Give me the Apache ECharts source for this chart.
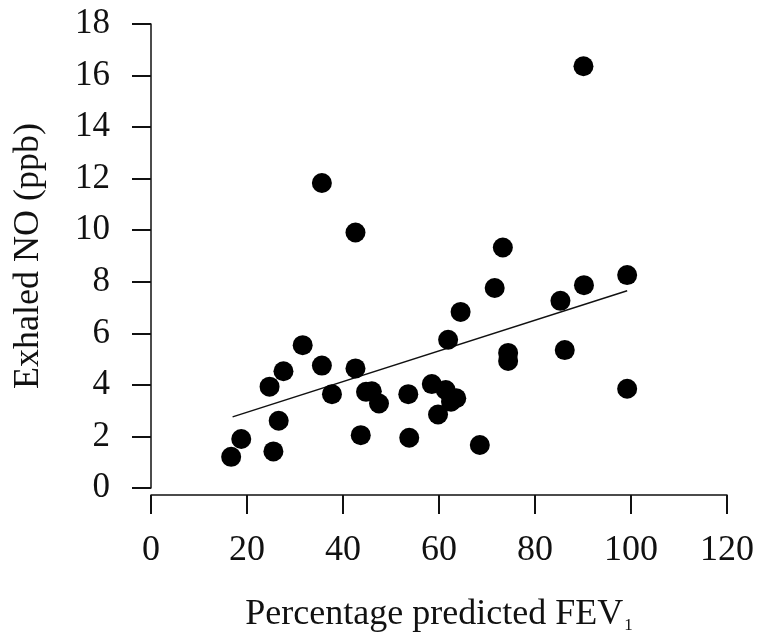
<!DOCTYPE html>
<html>
<head>
<meta charset="utf-8">
<script src="https://cdn.jsdelivr.net/npm/echarts@6/dist/echarts.min.js"></script>
<style>
  html, body { margin: 0; padding: 0; background: #fff; }
  #chart { width: 757px; height: 643px; }
</style>
</head>
<body>
<div id="chart"></div>
<script>
// percentage predicted FEV1 (x) vs exhaled NO in ppb (y)
var fevValues = [16.7, 18.8, 24.7, 25.5, 26.6, 27.6, 31.6, 35.6, 35.6, 37.7,
  42.6, 42.6, 43.7, 44.8, 46.0, 47.5, 53.6, 53.8, 58.5, 59.8,
  61.4, 62.5, 63.6, 61.9, 64.5, 68.5, 71.6, 73.3, 74.4, 74.4,
  85.3, 86.2, 90.2, 90.1, 99.2, 99.2];
var noValues = [1.21, 1.90, 3.93, 1.42, 2.61, 4.53, 5.54, 4.75, 11.83, 3.64,
  4.64, 9.91, 2.05, 3.73, 3.75, 3.28, 3.64, 1.95, 4.03, 2.85,
  3.80, 3.35, 3.48, 5.75, 6.83, 1.67, 7.76, 9.33, 5.24, 4.93,
  7.26, 5.35, 7.87, 16.36, 8.26, 3.85];

// fitted line, end points
var fitX = [17, 99.2];
var fitY = [2.76, 7.65];

var xTicks = [0, 20, 40, 60, 80, 100, 120];
var yTicks = [0, 2, 4, 6, 8, 10, 12, 14, 16, 18];

var font = '"Liberation Serif", "DejaVu Serif", serif';
var ink = '#111';

var chart = echarts.init(document.getElementById('chart'), null, { renderer: 'canvas' });

chart.setOption({
  backgroundColor: '#fff',
  animation: false,
  grid: { left: 151, right: 28, top: 24, bottom: 155, containLabel: false },
  xAxis: {
    type: 'value',
    min: xTicks[0],
    max: xTicks[xTicks.length - 1],
    interval: xTicks[1] - xTicks[0],
    offset: 7,
    name: '{m|Percentage predicted FEV}{s|1}',
    nameLocation: 'middle',
    nameGap: 100,
    nameTextStyle: {
      rich: {
        m: { fontFamily: font, fontSize: 36, color: ink },
        s: { fontFamily: font, fontSize: 17, color: ink, padding: [22, 0, 0, 1] }
      }
    },
    axisLine: { show: true, onZero: false, lineStyle: { color: ink, width: 1.5 } },
    axisTick: { show: true, length: 19, lineStyle: { color: ink, width: 2 } },
    axisLabel: { fontFamily: font, fontSize: 36, color: ink, margin: 38 },
    splitLine: { show: false }
  },
  yAxis: {
    type: 'value',
    min: yTicks[0],
    max: yTicks[yTicks.length - 1],
    interval: yTicks[1] - yTicks[0],
    name: 'Exhaled NO (ppb)',
    nameLocation: 'middle',
    nameGap: 104,
    nameTextStyle: { fontFamily: font, fontSize: 36, color: ink },
    axisLine: { show: true, onZero: false, lineStyle: { color: ink, width: 1.5 } },
    axisTick: { show: true, length: 19, lineStyle: { color: ink, width: 2 } },
    axisLabel: { fontFamily: font, fontSize: 35, color: ink, margin: 41 },
    splitLine: { show: false }
  },
  series: [
    {
      type: 'scatter',
      symbol: 'circle',
      symbolSize: 20,
      itemStyle: { color: '#000', opacity: 1 },
      data: fevValues.map(function (x, i) { return [x, noValues[i]]; }),
      z: 3
    },
    {
      type: 'line',
      symbol: 'none',
      lineStyle: { color: ink, width: 1.5 },
      data: fitX.map(function (x, i) { return [x, fitY[i]]; }),
      z: 2
    }
  ]
});
</script>
</body>
</html>
